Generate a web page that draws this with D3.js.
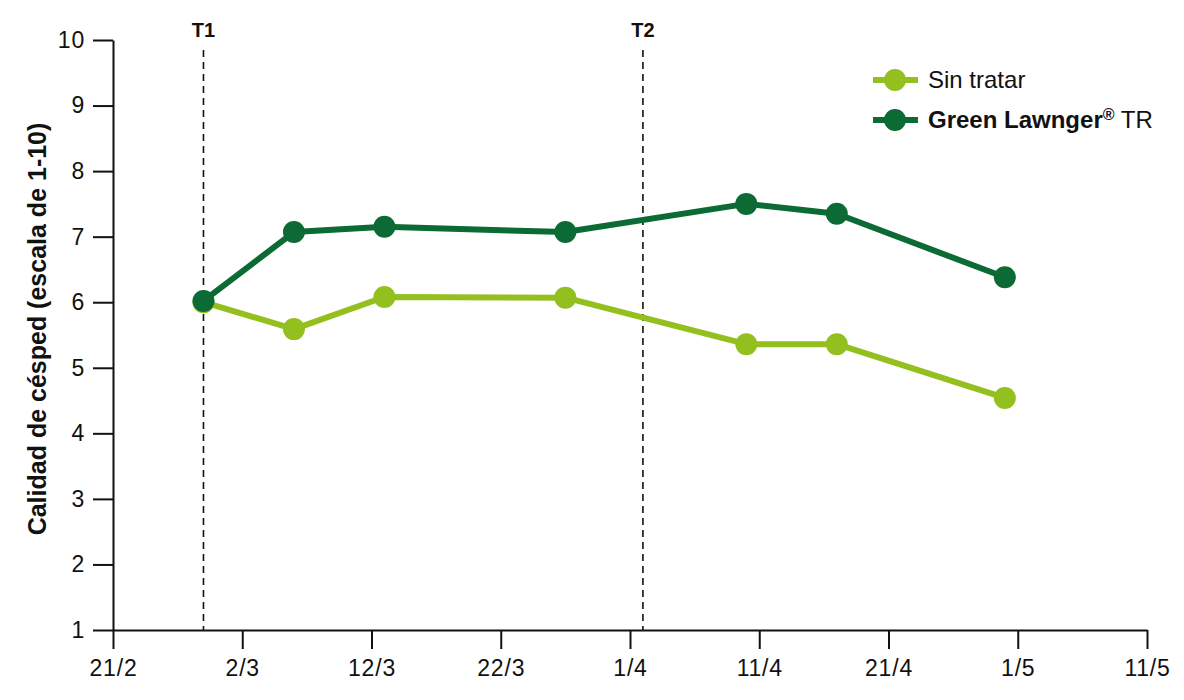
<!DOCTYPE html>
<meta charset="UTF-8">
<style>
body { margin: 0; background: #fff; }
text { font-family: "Liberation Sans", Arial, sans-serif; fill: #111; }
.axis path, .axis line { stroke: #111; stroke-width: 2px; }
.axis text { font-size: 23px; letter-spacing: 0.8px; }
</style>
<body>
<script src="https://cdnjs.cloudflare.com/ajax/libs/d3/7.8.5/d3.min.js"></script>
<script>
// sampling dates and scores (1-10)
const dates = ["2016-02-28", "2016-03-06", "2016-03-13", "2016-03-27", "2016-04-10", "2016-04-17", "2016-04-30"];
const sinTratar = [6.0, 5.59, 6.08, 6.07, 5.36, 5.36, 4.54];
const greenLawnger = [6.02, 7.07, 7.15, 7.07, 7.5, 7.35, 6.38];
const seriesNames = ["Sin tratar", "Green Lawnger® TR"];
const seriesColors = ["#93c01f", "#0c6a34"];
const treatments = ["T1", "T2"];
const treatmentDates = ["2016-02-28", "2016-04-02"];
const xTickDates = ["2016-02-21", "2016-03-02", "2016-03-12", "2016-03-22", "2016-04-01", "2016-04-11", "2016-04-21", "2016-05-01", "2016-05-11"];
const yTicks = [1, 2, 3, 4, 5, 6, 7, 8, 9, 10];

const parse = d3.timeParse("%Y-%m-%d");
const margin = {top: 40, right: 37, bottom: 70, left: 113},
    width = 1184 - margin.left - margin.right,
    height = 700 - margin.top - margin.bottom;

const svg = d3.select("body").append("svg")
    .attr("width", 1184)
    .attr("height", 700)
  .append("g")
    .attr("transform", "translate(" + margin.left + "," + margin.top + ")");

const x = d3.scaleTime()
    .domain([parse(xTickDates[0]), parse(xTickDates[xTickDates.length - 1])])
    .range([0, width]);
const y = d3.scaleLinear().domain([1, 10]).range([height, 0]);

// axes
svg.append("g")
    .attr("class", "axis")
    .attr("transform", "translate(0," + height + ")")
    .call(d3.axisBottom(x)
        .tickValues(xTickDates.map(parse))
        .tickFormat(d3.timeFormat("%-d/%-m"))
        .tickSize(19).tickSizeOuter(0).tickPadding(11));

svg.append("g")
    .attr("class", "axis")
    .call(d3.axisLeft(y).tickValues(yTicks).tickSize(20).tickSizeOuter(0).tickPadding(8));

svg.selectAll(".axis .domain").attr("stroke-width", 2.2);

// y label
svg.append("text")
    .attr("transform", "translate(-76," + (height / 2 - 6) + ") rotate(-90)")
    .attr("text-anchor", "middle")
    .attr("dy", "0.35em")
    .style("font-size", "25px")
    .style("font-weight", "bold")
    .text("Calidad de césped (escala de 1-10)");

// treatment lines
treatments.forEach(function(t, i) {
  const tx = x(parse(treatmentDates[i]));
  svg.append("line")
      .attr("x1", tx).attr("x2", tx)
      .attr("y1", 10).attr("y2", height)
      .attr("stroke", "#111")
      .attr("stroke-width", 1.6)
      .attr("stroke-dasharray", "7,5");
  svg.append("text")
      .attr("x", tx).attr("y", -3)
      .attr("text-anchor", "middle")
      .style("font-size", "20px")
      .style("font-weight", "bold")
      .text(t);
});

// series
const series = [sinTratar, greenLawnger];
const line = d3.line()
    .x(function(d, i) { return x(parse(dates[i])); })
    .y(function(d) { return y(d); });

series.forEach(function(values, s) {
  svg.append("path")
      .datum(values)
      .attr("fill", "none")
      .attr("stroke", seriesColors[s])
      .attr("stroke-width", 6)
      .attr("stroke-linejoin", "round")
      .attr("d", line);
  svg.selectAll(".dot" + s)
      .data(values)
    .enter().append("circle")
      .attr("class", "dot" + s)
      .attr("cx", function(d, i) { return x(parse(dates[i])); })
      .attr("cy", function(d) { return y(d); })
      .attr("r", 11)
      .attr("fill", seriesColors[s]);
});

// legend
const legend = svg.append("g").attr("transform", "translate(760,40)");
seriesNames.forEach(function(name, i) {
  const g = legend.append("g").attr("transform", "translate(0," + i * 40 + ")");
  g.append("line")
      .attr("x1", 0).attr("x2", 45)
      .attr("stroke", seriesColors[i])
      .attr("stroke-width", 6);
  g.append("circle")
      .attr("cx", 22).attr("r", 11)
      .attr("fill", seriesColors[i]);
  const t = g.append("text")
      .attr("x", 55).attr("y", 8)
      .style("font-size", "24px");
  if (i === 0) {
    t.text(name);
  } else {
    t.append("tspan").style("font-weight", "bold").text("Green Lawnger");
    t.append("tspan").style("font-weight", "bold").style("font-size", "16px")
        .attr("baseline-shift", "8px").text("®");
    t.append("tspan").text(" TR");
  }
});
</script>
</body>
